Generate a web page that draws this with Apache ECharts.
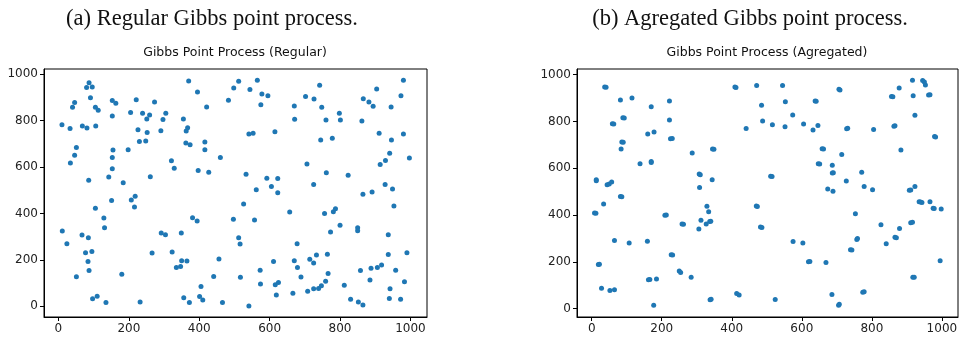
<!DOCTYPE html>
<html>
<head>
<meta charset="utf-8">
<script src="https://cdn.jsdelivr.net/npm/echarts@6/dist/echarts.min.js"></script>
<style>
  html, body { margin: 0; padding: 0; background: #fff; }
  #main { width: 962px; height: 339px; }
</style>
</head>
<body>
<div id="main"></div>
<script>
// tick labels on both axes
var tickValues = [0, 200, 400, 600, 800, 1000];

// regular Gibbs process, [x, y]
var regularPts = [
  [10,783],[33,767],[40,858],[46,879],[68,777],[81,769],[80,943],[87,964],[96,945],[91,899],
  [105,858],[113,845],[106,777],[51,685],[46,651],[34,618],[86,543],[153,887],[163,875],[153,820],
  [155,674],[153,642],[153,593],[143,558],[184,533],[198,675],[205,835],[221,890],[226,761],[230,710],
  [239,832],[248,713],[252,749],[251,808],[259,825],[261,559],[273,881],[291,757],[297,805],[305,832],
  [321,628],[329,595],[355,808],[363,756],[367,770],[370,971],[362,704],[374,697],[395,924],[416,708],
  [416,675],[421,859],[397,586],[427,578],[460,642],[483,888],[498,941],[512,970],
  [544,935],[565,974],[578,915],[595,908],[575,869],[615,753],[541,743],[553,746],[533,569],[562,502],
  [592,552],[605,517],[623,551],[623,490],[670,864],[671,806],[702,905],[726,894],[742,953],[748,858],
  [760,803],[745,717],[778,724],[798,832],[801,803],[706,614],[761,576],[823,565],[725,525],[862,799],
  [866,895],[882,881],[894,862],[904,937],[945,859],[973,908],[980,974],[911,746],[946,717],[980,743],
  [941,660],[929,629],[914,611],[997,639],[865,483],[891,493],[928,525],[949,506],
  [11,325],[24,270],[51,127],[67,307],[77,231],[85,296],[84,193],[95,236],[87,154],[97,33],
  [110,43],[105,423],[129,381],[131,339],[135,16],[151,456],[180,138],[207,458],[218,475],[216,428],
  [232,19],[266,230],[292,316],[304,309],[323,234],[335,167],[347,172],[350,197],[349,316],[365,195],
  [356,37],[372,17],[381,382],[394,368],[441,129],[405,85],[401,42],[410,27],[456,204],[466,16],
  [497,375],[512,296],[516,269],[517,125],
  [526,441],[557,372],[657,407],[756,400],[781,408],[787,421],[800,349],[773,320],[850,339],[850,326],
  [953,433],[937,309],[678,270],[990,231],[937,223],[611,193],[670,197],[679,167],[714,203],[725,187],
  [733,221],[764,224],[573,155],[574,96],[616,93],[625,103],[619,49],[541,1],[689,126],[666,56],
  [708,65],[725,76],[739,77],[747,89],[759,108],[766,141],[812,91],[830,30],[852,19],[865,6],
  [858,154],[888,164],[906,167],[918,178],[958,155],[885,114],[942,76],[940,34],[972,30],[983,106]
];

// aggregated Gibbs process, [x, y] (close pairs are the clustered points)
var aggregatedPts = [
  [37,947],[41,946],[82,892],[115,900],[89,816],[93,815],[59,790],[63,789],[86,712],[90,711],
  [84,682],[13,551],[13,546],[44,529],[50,532],[57,541],[82,479],[86,478],[138,619],[170,629],
  [170,624],[170,863],[160,746],[178,755],[222,887],[222,806],[225,726],[230,727],[287,665],[307,575],
  [310,572],[308,518],[345,682],[349,681],[344,551],[409,947],[412,945],[441,770],
  [471,954],[545,953],[485,869],[553,884],[488,802],[516,786],[552,777],[574,827],[605,789],[632,763],
  [646,783],[638,887],[641,886],[706,937],[709,934],[728,769],[731,771],[805,765],[863,779],[866,781],
  [856,906],[860,905],[878,943],[916,976],[918,910],[945,975],[950,968],[953,956],[962,913],[966,914],
  [923,826],[979,736],[982,733],[658,683],[662,682],[714,659],[883,678],[647,619],[651,618],[687,613],
  [687,580],[690,581],[511,566],[515,565],[771,583],[727,545],[674,511],[689,502],[778,522],[802,508],
  [907,506],[911,507],[923,522],
  [34,447],[8,408],[12,407],[209,399],[213,400],[258,361],[262,360],[329,437],[334,414],[312,378],
  [337,372],[340,373],[327,362],[306,340],[65,291],[107,280],[159,288],[19,188],[22,189],[227,230],
  [231,229],[250,161],[254,154],[284,134],[162,123],[166,124],[185,126],[28,87],[52,77],[65,80],
  [177,14],[338,38],[341,40],[414,64],[421,58],
  [470,438],[473,436],[482,349],[486,347],[524,39],[575,287],[603,280],[619,200],[623,201],[669,197],
  [686,60],[705,14],[707,19],[753,405],[757,295],[759,299],[739,251],[743,250],[774,70],[778,72],
  [826,358],[841,277],[866,305],[870,303],[879,342],[911,367],[916,369],[935,457],[939,455],[943,453],
  [966,457],[975,429],[978,428],[998,426],[995,204],[917,134],[921,134]
];

var myChart = echarts.init(document.getElementById('main'));

function valueAxis (idx, min, max) {
  return {
    type: 'value',
    gridIndex: idx,
    min: min,
    max: max,
    splitLine: { show: false },
    axisLine: { show: true, onZero: false, lineStyle: { color: '#000', width: 1 } },
    axisTick: {
      show: true, inside: false, length: 4,
      customValues: tickValues,
      lineStyle: { color: '#000', width: 1 }
    },
    axisLabel: {
      customValues: tickValues,
      formatter: function (v) { return String(v); },
      margin: 6,
      color: '#222',
      fontSize: 12,
      fontFamily: 'DejaVu Sans'
    }
  };
}

function caption (x, y, text, font) {
  return {
    type: 'text', x: x, y: y,
    style: {
      text: text, font: font, fill: '#111',
      textAlign: 'center', align: 'center',
      textVerticalAlign: 'middle', verticalAlign: 'middle'
    }
  };
}

var option = {
  animation: false,
  backgroundColor: '#fff',
  grid: [
    { left: 44, top: 69, width: 383, height: 248, show: true, borderColor: '#000', borderWidth: 1 },
    { left: 577, top: 69, width: 381, height: 248, show: true, borderColor: '#000', borderWidth: 1 }
  ],
  xAxis: [valueAxis(0, -41, 1047), valueAxis(1, -42, 1046)],
  yAxis: [valueAxis(0, -46, 1023), valueAxis(1, -36, 1024)],
  graphic: [
    caption(212, 19, '(a) Regular Gibbs point process.', '22.5px "Liberation Serif"'),
    caption(750, 19, '(b) Agregated Gibbs point process.', '22.5px "Liberation Serif"'),
    caption(235, 53, 'Gibbs Point Process (Regular)', '12.5px "DejaVu Sans"'),
    caption(767, 53, 'Gibbs Point Process (Agregated)', '12.5px "DejaVu Sans"')
  ],
  series: [{
    name: 'regular',
    type: 'scatter',
    xAxisIndex: 0,
    yAxisIndex: 0,
    symbolSize: 5,
    itemStyle: { color: '#1f77b4', opacity: 1 },
    data: regularPts
  }, {
    name: 'aggregated',
    type: 'scatter',
    xAxisIndex: 1,
    yAxisIndex: 1,
    symbolSize: 5,
    itemStyle: { color: '#1f77b4', opacity: 1 },
    data: aggregatedPts
  }]
};

myChart.setOption(option);
window.addEventListener('resize', function () {
  myChart.resize();
});
</script>
</body>
</html>
